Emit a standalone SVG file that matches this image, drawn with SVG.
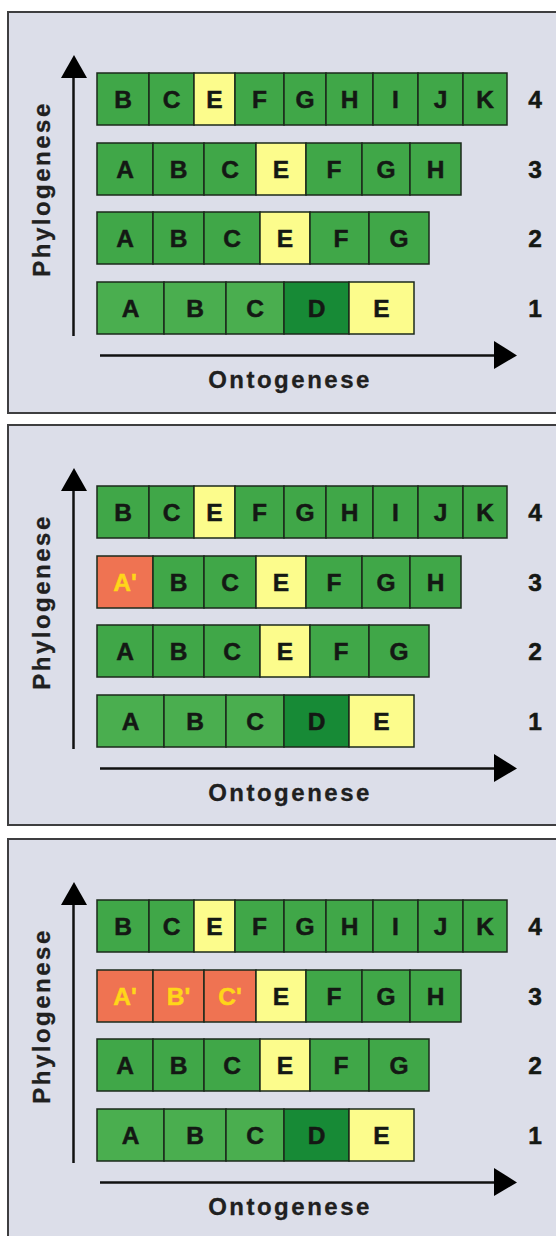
<svg xmlns="http://www.w3.org/2000/svg" width="556" height="1236" viewBox="0 0 556 1236">
<defs>
<style>
.panel{fill:#dcdee9;stroke:#3e3e40;stroke-width:2}
.c rect{stroke:#1b2a1b;stroke-width:1.5}
.g{fill:#40a748}
.lg{fill:#4aae4f}
.dg{fill:#178a36}
.y{fill:#fcfc8c}
.o{fill:#ef7352}
.t{font-family:"Liberation Sans",Arial,sans-serif;font-weight:bold;font-size:24.5px;text-anchor:middle;fill:#141814;stroke:#141814;stroke-width:0.5}
.ty{fill:#ffd619;stroke:#ffd619}
.ax{font-family:"Liberation Sans",Arial,sans-serif;font-weight:bold;font-size:24px;text-anchor:middle;fill:#202020;letter-spacing:2.5px;stroke:#202020;stroke-width:0.3}
.axl{stroke:#111;stroke-width:2.5;fill:none}
.ah{fill:#000}
</style>
<g id="axes">
<line class="axl" x1="73.5" y1="336" x2="73.5" y2="76"/>
<polygon class="ah" points="61,78 74,55 87,78"/>
<line class="axl" x1="100" y1="355.5" x2="496" y2="355.5"/>
<polygon class="ah" points="494,341 517,355.5 494,369"/>
</g>
<g id="row4">
<g class="c"><rect class="g" x="97" y="73" width="52" height="52"/><text class="t" x="123" y="108">B</text></g>
<g class="c"><rect class="g" x="149" y="73" width="45" height="52"/><text class="t" x="171.5" y="108">C</text></g>
<g class="c"><rect class="y" x="194" y="73" width="41" height="52"/><text class="t" x="214.5" y="108">E</text></g>
<g class="c"><rect class="g" x="235" y="73" width="49" height="52"/><text class="t" x="259.5" y="108">F</text></g>
<g class="c"><rect class="g" x="284" y="73" width="42" height="52"/><text class="t" x="305" y="108">G</text></g>
<g class="c"><rect class="g" x="326" y="73" width="47" height="52"/><text class="t" x="349.5" y="108">H</text></g>
<g class="c"><rect class="g" x="373" y="73" width="45" height="52"/><text class="t" x="395.5" y="108">I</text></g>
<g class="c"><rect class="g" x="418" y="73" width="45" height="52"/><text class="t" x="440.5" y="108">J</text></g>
<g class="c"><rect class="g" x="463" y="73" width="44" height="52"/><text class="t" x="485" y="108">K</text></g>
<text class="t" x="535" y="108">4</text>
</g>
<g id="row2">
<g class="c"><rect class="g" x="97" y="212" width="56" height="52"/><text class="t" x="125" y="247">A</text></g>
<g class="c"><rect class="g" x="153" y="212" width="51" height="52"/><text class="t" x="178.5" y="247">B</text></g>
<g class="c"><rect class="g" x="204" y="212" width="56" height="52"/><text class="t" x="232" y="247">C</text></g>
<g class="c"><rect class="y" x="260" y="212" width="50" height="52"/><text class="t" x="285" y="247">E</text></g>
<g class="c"><rect class="g" x="310" y="212" width="59" height="52"/><text class="t" x="341" y="247">F</text></g>
<g class="c"><rect class="g" x="369" y="212" width="60" height="52"/><text class="t" x="399" y="247">G</text></g>
<text class="t" x="535" y="247">2</text>
</g>
<g id="row1">
<g class="c"><rect class="lg" x="97" y="282" width="67" height="52"/><text class="t" x="130.5" y="317">A</text></g>
<g class="c"><rect class="lg" x="164" y="282" width="62" height="52"/><text class="t" x="195" y="317">B</text></g>
<g class="c"><rect class="lg" x="226" y="282" width="58" height="52"/><text class="t" x="255" y="317">C</text></g>
<g class="c"><rect class="dg" x="284" y="282" width="65" height="52"/><text class="t" x="316.5" y="317">D</text></g>
<g class="c"><rect class="y" x="349" y="282" width="65" height="52"/><text class="t" x="381.5" y="317">E</text></g>
<text class="t" x="535" y="317">1</text>
</g>
<g id="labels">
<text class="ax" transform="translate(50,189) rotate(-90)">Phylogenese</text>
<text class="ax" x="290" y="388">Ontogenese</text>
</g>
</defs>

<g id="panel1">
<rect class="panel" x="8" y="12" width="560" height="401"/>
<g id="connectors-1"><use href="#axes"/></g>
<g id="p1-row4"><use href="#row4"/></g>
<g id="p1-row3" class="c">
<g id="p1-r3-A"><rect class="g" x="97" y="143" width="56" height="52"/><text class="t" x="125" y="178">A</text></g>
<g id="p1-r3-B"><rect class="g" x="153" y="143" width="51" height="52"/><text class="t" x="178.5" y="178">B</text></g>
<g id="p1-r3-C"><rect class="g" x="204" y="143" width="52" height="52"/><text class="t" x="230" y="178">C</text></g>
<g id="p1-r3-E"><rect class="y" x="256" y="143" width="50" height="52"/><text class="t" x="281" y="178">E</text></g>
<g id="p1-r3-F"><rect class="g" x="306" y="143" width="56" height="52"/><text class="t" x="334" y="178">F</text></g>
<g id="p1-r3-G"><rect class="g" x="362" y="143" width="48" height="52"/><text class="t" x="386" y="178">G</text></g>
<g id="p1-r3-H"><rect class="g" x="410" y="143" width="51" height="52"/><text class="t" x="435.5" y="178">H</text></g>
<text class="t" x="535" y="178">3</text>
</g>
<g id="p1-row2"><use href="#row2"/></g>
<g id="p1-row1"><use href="#row1"/></g>
<g id="p1-labels"><use href="#labels"/></g>
</g>

<g id="panel2" transform="translate(0,413)">
<rect class="panel" x="8" y="12" width="560" height="400"/>
<g id="connectors-2"><use href="#axes"/></g>
<g id="p2-row4"><use href="#row4"/></g>
<g id="p2-row3" class="c">
<g id="p2-r3-A"><rect class="o" x="97" y="143" width="56" height="52"/><text class="t ty" x="125" y="178">A'</text></g>
<g id="p2-r3-B"><rect class="g" x="153" y="143" width="51" height="52"/><text class="t" x="178.5" y="178">B</text></g>
<g id="p2-r3-C"><rect class="g" x="204" y="143" width="52" height="52"/><text class="t" x="230" y="178">C</text></g>
<g id="p2-r3-E"><rect class="y" x="256" y="143" width="50" height="52"/><text class="t" x="281" y="178">E</text></g>
<g id="p2-r3-F"><rect class="g" x="306" y="143" width="56" height="52"/><text class="t" x="334" y="178">F</text></g>
<g id="p2-r3-G"><rect class="g" x="362" y="143" width="48" height="52"/><text class="t" x="386" y="178">G</text></g>
<g id="p2-r3-H"><rect class="g" x="410" y="143" width="51" height="52"/><text class="t" x="435.5" y="178">H</text></g>
<text class="t" x="535" y="178">3</text>
</g>
<g id="p2-row2"><use href="#row2"/></g>
<g id="p2-row1"><use href="#row1"/></g>
<g id="p2-labels"><use href="#labels"/></g>
</g>

<g id="panel3" transform="translate(0,827)">
<rect class="panel" x="8" y="12" width="560" height="420"/>
<g id="connectors-3"><use href="#axes"/></g>
<g id="p3-row4"><use href="#row4"/></g>
<g id="p3-row3" class="c">
<g id="p3-r3-A"><rect class="o" x="97" y="143" width="56" height="52"/><text class="t ty" x="125" y="178">A'</text></g>
<g id="p3-r3-B"><rect class="o" x="153" y="143" width="51" height="52"/><text class="t ty" x="178.5" y="178">B'</text></g>
<g id="p3-r3-C"><rect class="o" x="204" y="143" width="52" height="52"/><text class="t ty" x="230" y="178">C'</text></g>
<g id="p3-r3-E"><rect class="y" x="256" y="143" width="50" height="52"/><text class="t" x="281" y="178">E</text></g>
<g id="p3-r3-F"><rect class="g" x="306" y="143" width="56" height="52"/><text class="t" x="334" y="178">F</text></g>
<g id="p3-r3-G"><rect class="g" x="362" y="143" width="48" height="52"/><text class="t" x="386" y="178">G</text></g>
<g id="p3-r3-H"><rect class="g" x="410" y="143" width="51" height="52"/><text class="t" x="435.5" y="178">H</text></g>
<text class="t" x="535" y="178">3</text>
</g>
<g id="p3-row2"><use href="#row2"/></g>
<g id="p3-row1"><use href="#row1"/></g>
<g id="p3-labels"><use href="#labels"/></g>
</g>
</svg>
